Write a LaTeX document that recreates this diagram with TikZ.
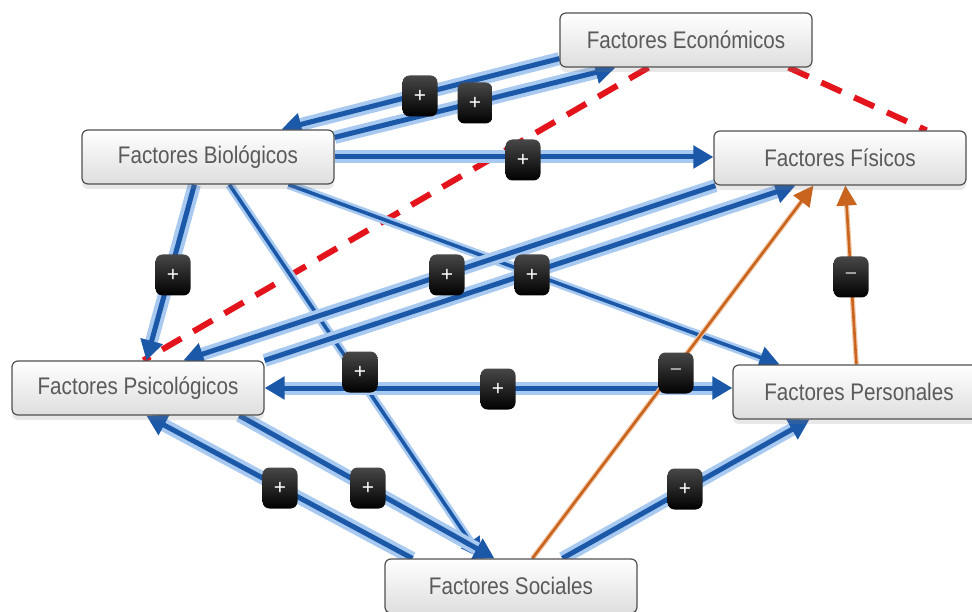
\documentclass[tikz,border=0pt]{standalone}
\usepackage{fontspec}
\newfontfamily\boxfont{Liberation Sans}[FakeStretch=0.86]
\newfontfamily\labfont{Liberation Sans}
\usetikzlibrary{arrows.meta,calc,shadows}
\definecolor{bluecore}{HTML}{1C58A8}
\definecolor{blueglow}{HTML}{A8C9F0}
\definecolor{orangecore}{HTML}{C8641E}
\definecolor{orangeglow}{HTML}{F3C9A8}
\definecolor{reddash}{HTML}{E3141B}
\definecolor{boxtext}{HTML}{5A5A5A}
\definecolor{boxborder}{HTML}{505050}
\pgfdeclarelayer{bg}
\pgfdeclarelayer{edges}
\pgfdeclarelayer{labels}
\pgfsetlayers{bg,edges,labels,main}
\tikzset{
  fbox/.style={draw=boxborder, line width=1.2pt, rounded corners=6pt,
    top color=white, bottom color=black!13,
    minimum width=252pt, minimum height=54pt, inner sep=0pt,
    text=boxtext, font=\boxfont\fontsize{24}{25}\selectfont,
    drop shadow={opacity=0.18, shadow xshift=0pt, shadow yshift=-5pt}},
  lab/.style={rounded corners=7pt, top color=black!72, bottom color=black,
    minimum width=35pt, minimum height=41pt, inner sep=0pt,
    text=white, font=\labfont\fontsize{21}{21}\selectfont},
  labm/.style={lab, text=black!22},
  tip/.style={-{Triangle[length=20pt,width=22pt]}},
  bedge/.style={draw=bluecore, line width=5pt, tip,
    preaction={draw=blueglow, line width=13pt, arrows=-, shorten >=14pt}},
  bedgethin/.style={draw=bluecore, line width=3.6pt, tip,
    preaction={draw=blueglow, line width=9pt, arrows=-, shorten >=14pt}},
  bedgeboth/.style={draw=bluecore, line width=5pt,
    {Triangle[length=20pt,width=22pt]}-{Triangle[length=20pt,width=22pt]},
    preaction={draw=blueglow, line width=13pt, arrows=-, shorten >=14pt, shorten <=14pt}},
  oedge/.style={draw=orangecore, line width=2.6pt, -{Triangle[length=20pt,width=20pt]},
    preaction={draw=orangeglow, line width=5pt, arrows=-, shorten >=14pt}},
  redge/.style={draw=reddash, line width=6pt, dash pattern=on 22pt off 14pt},
}
\begin{document}
\begin{tikzpicture}[x=1pt,y=-1pt]
\begin{pgfonlayer}{bg}
  \fill[white] (0,0) rectangle (972,612);
\end{pgfonlayer}
\useasboundingbox (0,0) rectangle (972,612);

% factor boxes
\node[fbox] (econ) at (686,40)  {Factores Económicos};
\node[fbox] (bio)  at (208,157) {Factores Biológicos};
\node[fbox] (fis)  at (840,158) {Factores Físicos};
\node[fbox] (psi)  at (138,388) {Factores Psicológicos};
\node[fbox] (pers) at (859,392) {Factores Personales};
\node[fbox] (soc)  at (511,586) {Factores Sociales};

\begin{pgfonlayer}{edges}
  % red dashed links
  \draw[redge] ($(econ.south west)+(89,0)$) -- ($(psi.north west)+(132,0)$);
  \draw[redge] ($(econ.south east)+(-24,0)$) -- ($(fis.north east)+(-40,0)$);
  % blue links
  \draw[bedge] ($(econ.south west)+(0,-9)$) -- ($(bio.north west)+(200,0)$);
  \draw[bedge] ($(bio.north east)+(0,8)$) -- ($(econ.south west)+(56,0)$);
  \draw[bedge] (bio.east) -- (bio.east -| fis.west);
  \draw[bedge] ($(bio.south west)+(113,0)$) -- ($(psi.north west)+(135,0)$);
  \draw[bedgethin] ($(bio.south west)+(148,0)$) -- ($(soc.north west)+(97,0)$);
  \draw[bedgethin] ($(bio.south west)+(207,0)$) -- ($(pers.north west)+(47,0)$);
  \draw[bedge] ($(fis.south west)+(2,0)$) -- ($(psi.north west)+(172,0)$);
  \draw[bedge] (psi.north east) -- ($(fis.south west)+(82,0)$);
  \draw[bedgeboth] (psi.east) -- (psi.east -| pers.west);
  \draw[bedge] ($(psi.south west)+(228,0)$) -- ($(soc.north west)+(110,0)$);
  \draw[bedge] ($(soc.north west)+(28,0)$) -- ($(psi.south west)+(135,0)$);
  \draw[bedge] ($(soc.north west)+(178,0)$) -- ($(pers.south west)+(77,0)$);
  % orange links
  \draw[oedge] ($(soc.north west)+(148,0)$) -- ($(fis.south west)+(100,0)$);
  \draw[oedge] ($(pers.north west)+(124,0)$) -- ($(fis.south west)+(132,0)$);
\end{pgfonlayer}

\begin{pgfonlayer}{labels}
  \node[lab]  (l1)  at (420,96)  {+};
  \node[lab]  (l2)  at (475,103) {+};
  \node[lab]  (l3)  at (523,160) {+};
  \node[lab]  (l4)  at (173,275) {+};
  \node[lab]  (l5)  at (447,275) {+};
  \node[lab]  (l6)  at (532,275) {+};
  \node[lab]  (l7)  at (360,372) {+};
  \node[lab]  (l8)  at (498,389) {+};
  \node[labm] (l9)  at (676,373) {−};
  \node[labm] (l10) at (851,277) {−};
  \node[lab]  (l11) at (280,488) {+};
  \node[lab]  (l12) at (368,488) {+};
  \node[lab]  (l13) at (685,489) {+};
\end{pgfonlayer}
\end{tikzpicture}
\end{document}
